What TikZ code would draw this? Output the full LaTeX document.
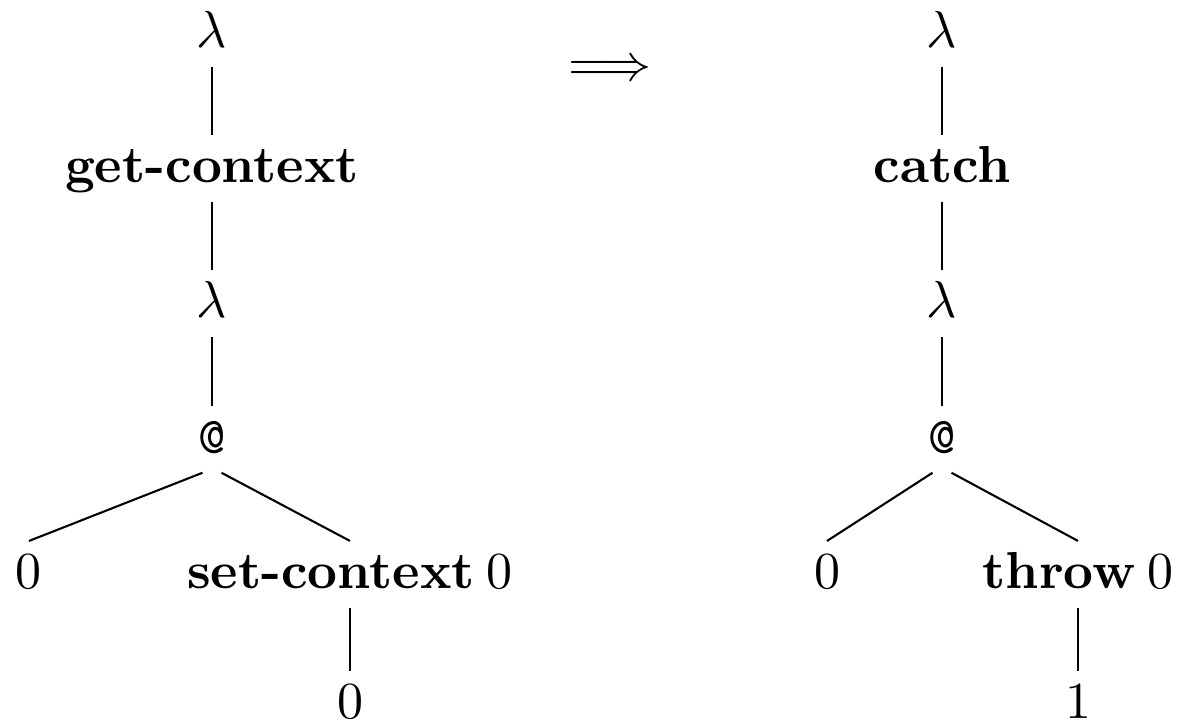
\documentclass[tikz,border=0pt]{standalone}
\begin{document}
\begin{tikzpicture}[x=0.1923pt,y=-0.1923pt,
  tn/.style={anchor=base,inner sep=0pt,text height=8.85pt,text depth=3.6pt},
  leaf/.style={tn,text depth=0pt},
  ln/.style={line width=0.4pt}]
\useasboundingbox (0,0) rectangle (1178,723);
% left tree
\node[tn] (l1) at (212,47) {$\lambda$};
\node[tn] (gc) at (212,182) {\textbf{get-context}};
\node[tn] (l2) at (212,317) {$\lambda$};
\node[tn] (at) at (212,453) {\texttt{@}};
\node[tn] (z1) at (29,588) {$0$};
\node[tn] (sc) at (350,588) {\textbf{set-context}\hspace{2.3pt}$0$};
\node[leaf] (z2) at (350,718) {$0$};
\draw[ln] (l1.south) -- (gc.north);
\draw[ln] (gc.south) -- (l2.north);
\draw[ln] (l2.south) -- (at.north);
\draw[ln] ([xshift=-1.83pt]at.south) -- (z1.north);
\draw[ln] ([xshift=1.83pt]at.south) -- (sc.north);
\draw[ln] (sc.south) -- (z2.north);
% arrow
\node[anchor=base,inner sep=0pt] (arr) at (610,80) {$\Longrightarrow$};
% right tree
\node[tn] (l3) at (942,47) {$\lambda$};
\node[tn] (ca) at (942,182) {\textbf{catch}};
\node[tn] (l4) at (942,317) {$\lambda$};
\node[tn] (at2) at (942,453) {\texttt{@}};
\node[tn] (z3) at (827,588) {$0$};
\node[tn] (th) at (1078,588) {\textbf{throw}\hspace{2.3pt}$0$};
\node[leaf] (one) at (1078,718) {$1$};
\draw[ln] (l3.south) -- (ca.north);
\draw[ln] (ca.south) -- (l4.north);
\draw[ln] (l4.south) -- (at2.north);
\draw[ln] ([xshift=-1.83pt]at2.south) -- (z3.north);
\draw[ln] ([xshift=1.83pt]at2.south) -- (th.north);
\draw[ln] (th.south) -- (one.north);
\end{tikzpicture}
\end{document}
